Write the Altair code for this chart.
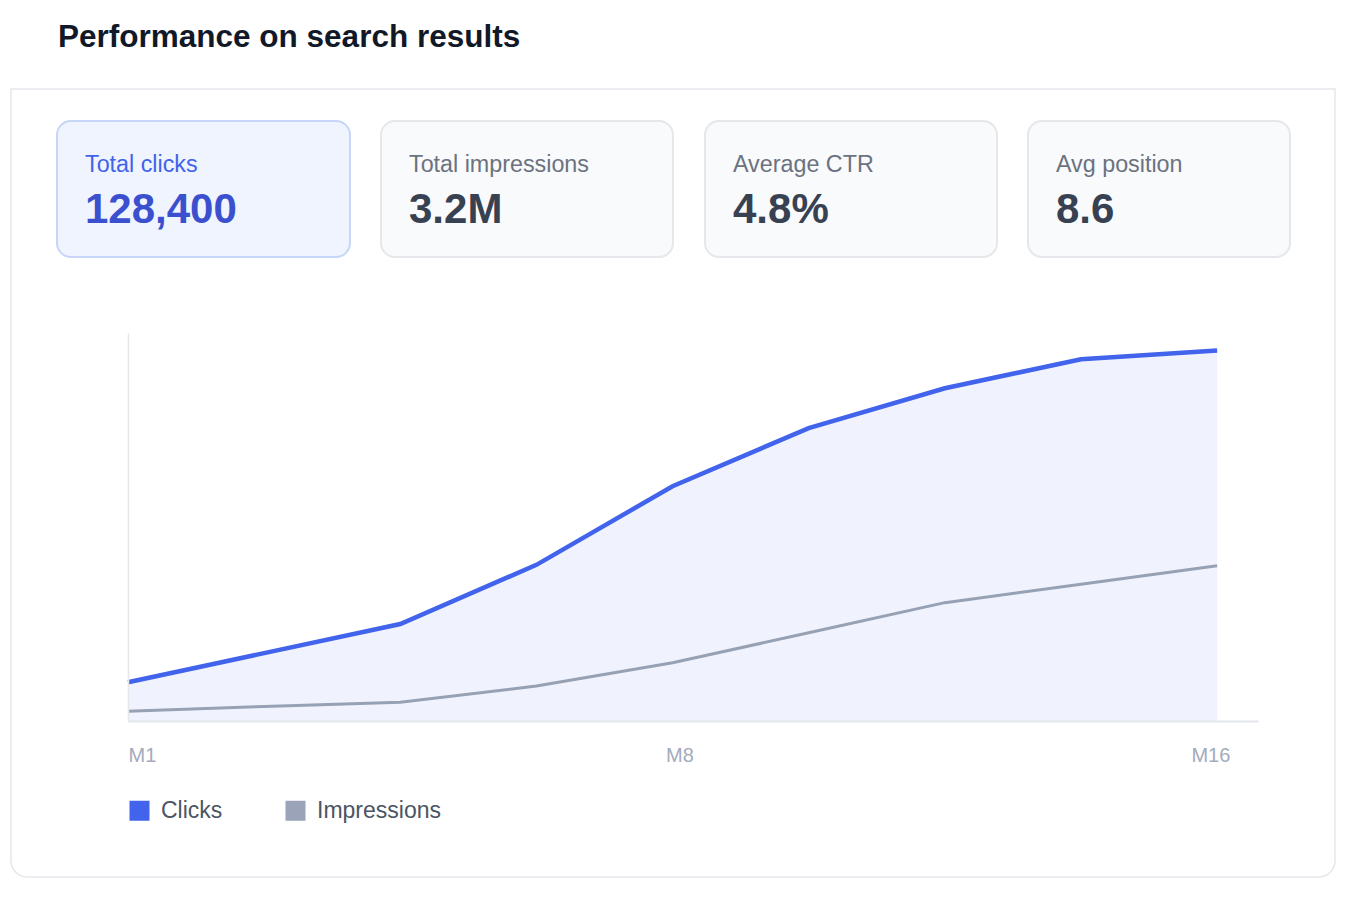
import altair as alt
import pandas as pd

# series (plotted on one shared, unlabeled axis)
months = ["M1", "M2", "M4", "M6", "M8", "M10", "M12", "M14", "M16"]
clicks = [2000, 3500, 5000, 8050, 12100, 15100, 17150, 18650, 19100]
impressions = [500, 750, 970, 1800, 3000, 4550, 6100, 7050, 8000]
series_names = ["Clicks", "Impressions"]
tick_labels = ["M1", "M8", "M16"]

title_text = "Performance on search results"
kpi_labels = ["Total clicks", "Total impressions", "Average CTR", "Avg position"]
kpi_values = ["128,400", "3.2M", "4.8%", "8.6"]

FONT = "Liberation Sans"
BLUE = "#4263eb"
GREY = "#97a1b4"

# plot origin sits at page (128, 333); decorations are placed in page pixels
ORIGIN_X, ORIGIN_Y = 128, 333


def px(x):
    return x - ORIGIN_X


def py(y):
    return y - ORIGIN_Y


one_row = pd.DataFrame({"k": [0]})


def box(x0, y0, x1, y1, fill, stroke, width=1.5, **corners):
    return (
        alt.Chart(one_row)
        .mark_rect(fill=fill, stroke=stroke, strokeWidth=width, **corners)
        .encode(
            x=alt.value(px(x0)),
            x2=alt.value(px(x1)),
            y=alt.value(py(y0)),
            y2=alt.value(py(y1)),
        )
    )


def label(text, x, y, size, color, weight="normal"):
    return (
        alt.Chart(pd.DataFrame({"t": [text]}))
        .mark_text(
            align="left",
            baseline="alphabetic",
            font=FONT,
            fontSize=size,
            fontWeight=weight,
            color=color,
        )
        .encode(x=alt.value(px(x)), y=alt.value(py(y)), text="t:N")
    )


wide = pd.DataFrame(
    {"idx": range(len(months)), "month": months, "Clicks": clicks, "Impressions": impressions}
)
long = wide.melt(
    id_vars=["idx", "month"], value_vars=series_names, var_name="series", value_name="value"
)

label_expr = (
    f"datum.value < 2 ? '{tick_labels[0]}' : "
    f"datum.value < 6 ? '{tick_labels[1]}' : '{tick_labels[2]}'"
)

x = alt.X(
    "idx:Q",
    scale=alt.Scale(domain=[0, 8.3], nice=False, zero=False),
    axis=alt.Axis(
        values=[0, 4.05, 7.95],
        labelExpr=label_expr,
        title=None,
        grid=False,
        ticks=False,
        tickSize=0,
        domainColor="#e3e6eb",
        domainWidth=2,
        labelColor="#a3abbc",
        labelFont=FONT,
        labelFontSize=20,
        labelPadding=24,
        labelFlush=True,
        zindex=1,
    ),
)
y = alt.Y(
    "value:Q",
    scale=alt.Scale(domain=[0, 20000], nice=False),
    axis=alt.Axis(
        title=None,
        labels=False,
        ticks=False,
        grid=False,
        domainColor="#e5e7eb",
        domainWidth=1.5,
        zindex=1,
    ),
)

area = (
    alt.Chart(long)
    .transform_filter(alt.datum.series == "Clicks")
    .mark_area(color=BLUE, opacity=0.08)
    .encode(x=x, y=y)
)

line_impr = (
    alt.Chart(long)
    .transform_filter(alt.datum.series == "Impressions")
    .mark_line(color=GREY, strokeWidth=3)
    .encode(x=x, y=y)
)

line_clicks = (
    alt.Chart(long)
    .transform_filter(alt.datum.series == "Clicks")
    .mark_line(color=BLUE, strokeWidth=4.5)
    .encode(x=x, y=y)
)

# empty square layer that only carries the legend
legend_layer = (
    alt.Chart(long)
    .transform_filter("false")
    .mark_square(filled=True, size=400, opacity=1)
    .encode(
        x=x,
        y=y,
        color=alt.Color(
            "series:N",
            scale=alt.Scale(domain=series_names, range=[BLUE, "#9aa3b8"]),
            legend=alt.Legend(
                title=None,
                orient="none",
                legendX=0,
                legendY=py(799),
                direction="horizontal",
                symbolType="square",
                symbolSize=400,
                symbolStrokeWidth=0,
                symbolOpacity=1,
                labelFont=FONT,
                labelFontSize=23,
                labelColor="#4b5563",
                labelOffset=10,
                columnPadding=61,
                padding=0,
                zindex=1,
            ),
        ),
    )
)

decor = [
    label(title_text, 58, 47, 31.5, "#111827", "bold"),
    box(11, 89, 1335, 877, "transparent", "#e5e7eb", 1.5,
        cornerRadiusBottomLeft=16, cornerRadiusBottomRight=16),
]

card_edges = [(57, 350), (381, 673), (705, 997), (1028, 1290)]
for i, ((x0, x1), lab, val) in enumerate(zip(card_edges, kpi_labels, kpi_values)):
    if i == 0:
        fill, stroke, lab_color, val_color = "#eff4fe", "#c7d6f8", "#4263eb", "#3b50cf"
    else:
        fill, stroke, lab_color, val_color = "#f9fafb", "#e5e7eb", "#6b7280", "#374151"
    decor.append(box(x0, 121, x1, 257, fill, stroke, 2, cornerRadius=14))
    decor.append(label(lab, x0 + 28, 172, 23.3, lab_color))
    decor.append(label(val, x0 + 28, 223, 42, val_color, "bold"))

chart = (
    alt.layer(*decor, area, line_impr, line_clicks, legend_layer)
    .properties(
        width=1130,
        height=388,
        autosize=alt.AutoSizeParams(type="none"),
        padding={"left": 120, "top": 325, "right": 94, "bottom": 176},
        background="white",
    )
    .configure_view(stroke=None)
)

chart.save("out.html", embed_options={"renderer": "svg", "actions": False})
